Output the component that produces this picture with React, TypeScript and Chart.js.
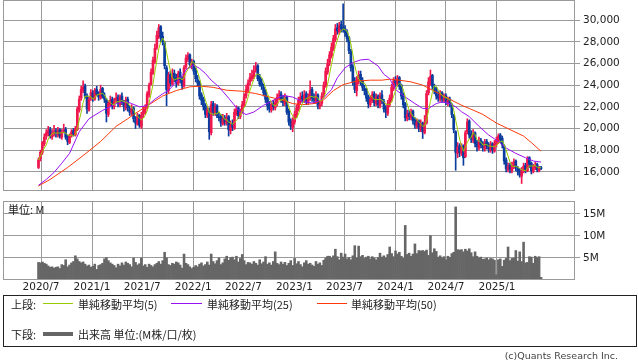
import React, { useEffect, useRef } from 'react';
import { Chart, registerables } from 'chart.js';

Chart.register(...registerables);

// ---------- axis / label data ----------
const startDate = '2020-06-22'; // week 0
const xTickDates = ['2020-07-01', '2021-01-01', '2021-07-01', '2022-01-01', '2022-07-01', '2023-01-01', '2023-07-01', '2024-01-01', '2024-07-01', '2025-01-01'];
const xTickLabels = ['2020/7', '2021/1', '2021/7', '2022/1', '2022/7', '2023/1', '2023/7', '2024/1', '2024/7', '2025/1'];
const priceTicks = [16000, 18000, 20000, 22000, 24000, 26000, 28000, 30000];
const volumeTicks = [5, 10, 15];

// ---------- weekly candles ----------
const opens = [
  16400,17200,17800,18600,19300,19500,19900,19200,19500,19800,
  19400,19900,19200,19800,19900,19300,18700,19400,19800,19400,
  19900,21700,22800,23500,23900,23000,21700,22800,23300,22700,
  23600,23200,22800,23700,23000,22600,21300,22200,22700,22000,
  22600,22900,22200,23000,22400,21900,22700,21800,21400,21900,
  20800,20400,21200,20200,21300,21500,21900,23100,24100,25100,
  26200,27500,28500,29400,28500,27900,25600,23500,25000,24100,
  25100,24700,24100,25200,24600,23900,25700,26400,26800,25800,
  26200,25400,24500,24300,23100,22700,22100,21200,21800,19600,
  22300,21400,22100,21100,21100,20400,21000,20500,21100,19800,
  20400,20000,21400,21900,21100,21600,22100,23000,23500,24300,
  24600,24800,25400,25800,24700,24200,23800,23400,22800,22200,
  21700,22300,21900,22300,23000,23200,22800,22300,22900,21600,
  20700,20100,20600,21200,21800,22500,23000,22600,23200,22400,
  22800,23600,22900,22500,23100,22000,22300,23100,23900,25200,
  26100,26700,27400,28200,29300,28900,29600,29300,29200,28900,
  28400,27100,25700,24400,23500,24400,25000,24400,23700,23600,
  22900,22200,22600,23200,22300,23000,22100,23100,22500,21900,
  21400,22200,22700,23700,24500,24100,24700,24000,23100,22300,
  20900,21400,21000,21600,20800,20200,20700,19900,20500,19600,
  20500,23300,24200,24900,23800,23600,23100,22700,23300,22600,
  23000,22400,22700,22200,21200,19700,17700,18400,17700,18400,
  17400,19700,20700,19500,18900,19600,18700,18200,18900,18600,
  18100,18800,18500,18000,18600,17900,18500,18800,19400,19100,
  18400,17100,16200,16600,16100,16500,17000,16300,16100,15600,
  16200,16600,16100,17300,16800,16000,16400,16700,16100,16400,
];
const highs = [
  17300,18000,18800,19500,19900,20200,20100,19900,20300,20000,
  20100,20000,19900,20400,20100,19400,19500,19900,20000,20200,
  22000,23000,23900,24400,24100,23200,22900,23600,23500,23700,
  23900,23400,24000,23800,23300,22800,22500,23000,22900,22800,
  23300,23100,23100,23300,22600,22900,22900,22100,22200,22000,
  21100,21400,21300,21500,22000,22200,23400,24200,25500,26600,
  27800,29000,29600,29500,28900,28000,25800,25200,25300,25500,
  25400,25000,25300,25500,24800,25800,26800,27000,26900,26400,
  26300,25600,24900,24400,23300,22900,22300,22000,21900,22500,
  22500,22300,22200,21500,21300,21300,21200,21400,21200,20700,
  20800,21800,22100,22000,21800,22500,23200,24000,24500,25100,
  25400,25800,26100,25900,25000,24600,24100,23600,23000,22500,
  22400,22600,22700,23200,23500,23400,23000,23200,23000,21800,
  20900,21000,21600,22200,22900,23300,23400,23500,23400,23200,
  24400,23800,23200,23400,23200,22600,23300,24300,25600,26400,
  27100,27900,28600,29600,29700,29800,29900,31500,29500,29100,
  28500,27300,25900,24700,24800,25300,25300,24700,24000,23700,
  23100,23000,23400,23400,23200,23100,23300,23500,22700,22100,
  22600,23100,24100,24700,24800,24900,24800,24100,23300,22400,
  21700,21700,21800,21700,21000,20900,20800,20800,20600,21200,
  23500,24700,25400,25000,24100,23800,23400,23500,23400,23200,
  23200,22900,22900,22300,21300,19800,18700,18600,18600,18500,
  19800,20900,20800,19800,19900,19700,18900,19200,19100,18800,
  19000,19000,18700,18800,18700,18900,19200,19500,19540,19300,
  18500,17300,16800,16800,16900,17200,17100,16500,16300,16400,
  16800,16800,17400,17400,16900,16700,16900,16800,16500,16500,
];
const lows = [
  16300,17000,17600,18400,19000,19300,19100,19000,19300,19200,
  19200,19100,19000,19600,19000,18500,18600,19200,19300,19300,
  19800,21500,22600,23300,22800,21400,21600,22600,22500,22600,
  23000,22600,22700,22800,22400,20600,21100,22000,21800,21800,
  22400,22000,22000,22200,21600,21700,21600,21200,21200,20600,
  20000,20300,20100,20000,21000,21300,21800,22900,24000,25000,
  26000,27300,28300,28000,27700,25500,22100,23300,23900,24000,
  24300,23800,24000,24200,23600,23800,25500,26200,25600,25500,
  25000,24300,23900,22700,22200,21700,21000,21000,19000,19400,
  21200,21200,21000,20700,20200,20300,20300,20300,19300,19500,
  19800,19900,21200,20900,20900,21400,22000,22800,23300,24000,
  24400,24600,25200,24400,23900,23600,23000,22400,21700,21500,
  21500,21700,21700,22100,22700,22400,22100,22100,21300,20300,
  19900,19700,20400,21000,21600,22300,22400,22400,22200,22200,
  22600,22500,22300,22300,21800,21800,22100,22900,23800,25000,
  25800,26500,27200,28000,28700,28700,28900,28900,28500,28000,
  26900,25300,24000,23300,23000,24100,24000,23500,23100,22500,
  21900,22000,22400,22100,22100,21900,21900,22300,21500,21000,
  21200,22000,22500,23500,23900,23900,23600,22700,21900,20700,
  20700,20800,20800,20400,20000,20000,19700,19700,19080,19500,
  20400,23100,24000,23600,23200,22700,22500,22500,22400,22400,
  22200,22100,22000,21000,19600,16150,17300,17400,17500,16600,
  17300,19500,19100,18700,18700,18300,17900,18000,18200,17900,
  17900,18100,17800,17800,17700,17800,18300,18600,18700,18200,
  16700,16000,16000,15900,15900,16300,16100,15700,15500,14920,
  15900,15900,16000,16400,15800,15900,16200,16000,16000,16200,
];
const closes = [
  17100,17800,18700,19200,19600,19800,19300,19600,19700,19500,
  19800,19300,19700,19900,19200,18800,19300,19700,19500,20000,
  21800,22700,23600,23800,23000,21800,22700,23300,22800,23500,
  23200,22900,23600,23000,22700,21400,22300,22600,22100,22500,
  22800,22300,22900,22400,22000,22600,21900,21500,21800,20900,
  20500,21100,20300,21200,21600,21800,23200,24000,25200,26300,
  27400,28600,29300,28400,28000,25800,23600,24900,24200,25000,
  24600,24200,25100,24500,24000,25600,26500,26700,25900,26100,
  25300,24600,24200,23000,22600,22000,21300,21700,19700,22200,
  21500,22000,21200,21000,20500,20900,20600,21000,19900,20300,
  20100,21500,21800,21200,21500,22200,22900,23600,24200,24700,
  24900,25300,25700,24600,24100,23900,23300,22700,22100,21800,
  22200,22000,22400,22900,23100,22700,22400,22800,21500,20600,
  20200,20700,21300,21900,22600,22900,22700,23100,22500,22900,
  23500,22800,22600,23000,22100,22200,23000,24000,25300,26000,
  26800,27500,28300,29200,29000,29500,29200,29100,28800,28300,
  27200,25600,24300,23600,24500,24900,24300,23800,23500,22800,
  22300,22700,23100,22400,22900,22200,23000,22600,21800,21500,
  22300,22800,23800,24400,24200,24600,23900,23000,22200,21000,
  21300,21100,21500,20700,20300,20600,20000,20400,19700,20500,
  23200,24300,24800,23900,23500,23000,22800,23200,22700,22900,
  22500,22600,22300,21300,19900,17800,18300,17800,18300,17300,
  19600,20600,19400,19000,19500,18600,18300,18800,18500,18200,
  18700,18400,18100,18500,18000,18600,18900,19300,19000,18500,
  17000,16300,16500,16200,16600,16900,16400,16000,15700,16100,
  16500,16200,17200,16700,16100,16500,16600,16200,16400,16300,
];
// volume, millions
const volumes = [
  4.0,3.9,4.1,3.8,3.6,3.2,2.9,3.0,2.7,2.9,
  3.0,2.6,3.5,3.3,4.6,3.0,3.4,3.9,4.2,5.5,
  4.8,4.2,3.9,4.1,3.6,3.2,3.4,2.9,3.1,3.6,
  2.4,3.3,3.5,3.8,4.8,5.1,4.4,3.9,3.6,3.3,
  2.8,3.6,3.2,3.9,3.4,4.1,3.8,3.5,3.0,5.0,
  4.0,3.4,3.7,5.0,3.2,3.5,2.9,3.6,3.3,3.0,
  3.5,3.8,4.2,3.6,4.4,6.3,5.0,3.5,3.3,3.8,
  3.6,4.1,3.9,3.4,2.7,5.9,3.8,3.5,3.0,2.6,
  2.9,3.3,3.0,3.6,3.9,3.2,3.5,4.1,3.4,5.9,
  4.2,3.7,4.4,5.0,3.5,3.9,4.8,5.4,4.5,5.1,
  5.2,4.6,5.4,4.1,4.9,5.8,4.4,3.5,4.0,3.9,
  3.6,4.2,3.8,3.4,4.6,3.7,4.1,5.3,3.6,3.9,
  3.4,4.2,6.4,3.8,3.5,4.1,3.6,4.0,3.3,3.8,
  4.4,3.3,4.9,3.7,4.2,3.5,3.0,3.9,4.4,3.6,
  3.8,3.4,3.1,4.2,3.6,3.9,3.3,4.5,5.0,5.4,
  5.4,5.0,5.5,7.0,5.3,4.6,6.1,5.2,5.9,4.8,
  5.1,4.6,5.5,7.8,5.0,7.7,5.3,5.6,4.9,5.2,
  5.4,4.8,5.3,5.0,4.6,5.1,6.1,5.2,5.5,5.0,
  5.8,7.5,6.0,5.3,6.6,5.9,6.3,5.4,4.9,12.4,
  5.8,6.1,5.4,5.9,8.2,6.0,6.7,6.6,6.7,6.5,
  6.8,5.6,10.1,6.2,7.1,6.5,5.2,5.5,5.0,5.3,
  4.6,5.4,5.1,6.0,6.3,16.6,6.9,6.8,6.9,6.4,
  7.0,6.6,7.1,6.2,5.3,6.4,5.4,5.0,5.2,4.7,
  4.8,5.0,4.6,4.9,4.8,4.5,1.2,4.6,4.8,3.1,
  4.5,4.9,7.5,4.4,4.9,5.0,6.7,4.3,6.4,4.2,
  8.6,3.9,4.0,5.3,5.2,3.8,5.4,5.1,5.3,0.6,
];

// moving averages (25, 50) at these weeks
const ma25Weeks = [0,4,8,12,16,21,26,33,40,45,48,52,56,60,64,67,70,74,77,80,83,86,89,93,98,103,107,111,116,121,126,131,136,141,146,151,154,158,162,166,170,175,178,181,184,189,194,198,201,205,208,212,215,218,222,227,232,237,241,246,251,255,259];
const ma25Values = [14760,15300,15940,16800,17700,19700,20900,21670,22290,22500,22300,22000,22100,22700,23200,23500,24100,24900,25600,25850,25550,25080,24460,23840,22800,21700,21280,21520,22140,22600,23050,22900,22500,22350,22650,23590,24680,25600,26080,26330,26390,25770,25000,24600,23600,22900,22300,21850,21850,22300,22450,22300,22000,21550,21100,20200,19400,18800,18200,17700,17300,17000,16900];
const ma50Weeks = [0,6,15,23,32,40,46,50,57,64,71,78,84,90,97,105,112,119,126,131,136,142,147,152,157,164,171,177,181,186,192,198,203,208,213,218,222,229,236,243,250,254,259];
const ma50Values = [14700,15300,16400,17500,18800,20200,20900,21400,22200,23000,23500,23850,23900,23800,23530,23440,23220,22910,22600,22300,22200,22300,22650,23500,24050,24370,24460,24460,24550,24460,24300,24000,23540,23080,22600,22150,21850,21300,20500,19900,19300,18700,17900];

// ---------- style constants ----------
const RED = '#f0174e';
const BLUE = '#0a3d9e';
const GREEN = '#99cc00';
const PURPLE = '#9a10f5';
const ORANGE = '#ff3a0a';
const GRID = '#9a9a9a';
const TEXT = '#222';
const X_MIN = -18.3;
const X_MAX = 276.5;
const TICK_FONT = { family: 'DejaVu Sans', size: 10.5 };

const weekOf = (d: string) =>
  (Date.parse(d + 'T00:00:00Z') - Date.parse(startDate + 'T00:00:00Z')) / (7 * 86400000);

const framePlugin = {
  id: 'frame',
  afterDraw(chart: any) {
    const { ctx, chartArea: a } = chart;
    ctx.save();
    ctx.strokeStyle = GRID;
    ctx.lineWidth = 1;
    ctx.strokeRect(Math.round(a.left) + 0.5, Math.round(a.top) + 0.5, Math.round(a.right - a.left) - 1, Math.round(a.bottom - a.top) - 1);
    ctx.restore();
  },
};

export default function App() {
  const priceRef = useRef<HTMLCanvasElement>(null);
  const volRef = useRef<HTMLCanvasElement>(null);

  useEffect(() => {
    const xTickPos = xTickDates.map(weekOf);
    const setXTicks = (scale: any) => {
      scale.ticks = xTickPos.map((v) => ({ value: v }));
    };
    const idx = closes.map((_, i) => i);
    const colors = idx.map((i) => (closes[i] >= opens[i] ? RED : BLUE));
    const wickData = idx.map((i) => ({ x: i, y: [lows[i], highs[i]] }));
    const bodyData = idx.map((i) => {
      const lo = Math.min(opens[i], closes[i]);
      const hi = Math.max(opens[i], closes[i]);
      return { x: i, y: [lo, hi - lo < 40 ? lo + 40 : hi] };
    });
    const ma5Data = idx.map((i) => {
      const w = closes.slice(Math.max(0, i - 4), i + 1);
      return { x: i, y: w.reduce((s, v) => s + v, 0) / w.length };
    });
    const ma25Data = ma25Weeks.map((w, i) => ({ x: w, y: ma25Values[i] }));
    const ma50Data = ma50Weeks.map((w, i) => ({ x: w, y: ma50Values[i] }));

    const priceChart = new Chart(priceRef.current as HTMLCanvasElement, {
      type: 'bar',
      data: {
        datasets: [
          { type: 'line', label: 'MA5', data: ma5Data, borderColor: GREEN, borderWidth: 1, pointRadius: 0, tension: 0, order: 0 } as any,
          { type: 'line', label: 'MA25', data: ma25Data, borderColor: PURPLE, borderWidth: 1, pointRadius: 0, tension: 0, order: 1 } as any,
          { type: 'line', label: 'MA50', data: ma50Data, borderColor: ORANGE, borderWidth: 1, pointRadius: 0, tension: 0, order: 2 } as any,
          { type: 'bar', label: 'body', data: bodyData, backgroundColor: colors, barThickness: 2, grouped: false, order: 3 } as any,
          { type: 'bar', label: 'wick', data: wickData, backgroundColor: colors, barThickness: 1, grouped: false, order: 4 } as any,
        ],
      },
      options: {
        animation: false,
        responsive: false,
        devicePixelRatio: 1,
        events: [],
        layout: { padding: { left: 3, right: 0, top: 0, bottom: 0 } },
        plugins: { legend: { display: false }, tooltip: { enabled: false } },
        scales: {
          x: {
            type: 'linear',
            min: X_MIN,
            max: X_MAX,
            offset: false,
            grid: { color: GRID, drawTicks: false, offset: false },
            border: { display: false },
            ticks: { display: false },
            afterBuildTicks: setXTicks,
            afterFit: (s: any) => { s.height = 0; s.paddingLeft = 0; s.paddingRight = 0; },
          },
          y: {
            type: 'linear',
            position: 'right',
            min: 14230,
            max: 31860,
            grid: { color: GRID, tickLength: 5 },
            border: { display: false },
            ticks: { font: TICK_FONT, color: TEXT, padding: 3, callback: (v: any) => Number(v).toLocaleString('en-US') },
            afterBuildTicks: (s: any) => { s.ticks = priceTicks.map((v) => ({ value: v })); },
            afterFit: (s: any) => { s.width = 63; s.paddingTop = 0; s.paddingBottom = 0; },
          },
        },
      } as any,
      plugins: [framePlugin],
    });

    const volChart = new Chart(volRef.current as HTMLCanvasElement, {
      type: 'bar',
      data: {
        datasets: [
          {
            label: 'volume',
            data: idx.map((i) => ({ x: i, y: volumes[i] })),
            backgroundColor: '#666666',
            barPercentage: 1,
            categoryPercentage: 1,
            borderWidth: 0,
          } as any,
        ],
      },
      options: {
        animation: false,
        responsive: false,
        devicePixelRatio: 1,
        events: [],
        layout: { padding: { left: 3, right: 0, top: 5, bottom: 0 } },
        plugins: { legend: { display: false }, tooltip: { enabled: false } },
        scales: {
          x: {
            type: 'linear',
            min: X_MIN,
            max: X_MAX,
            offset: false,
            grid: { color: GRID, drawTicks: false, offset: false },
            border: { display: false },
            ticks: { font: TICK_FONT, color: TEXT, padding: 1, autoSkip: false, maxRotation: 0, callback: (_v: any, i: number) => xTickLabels[i] },
            afterBuildTicks: setXTicks,
            afterFit: (s: any) => { s.height = 16; s.paddingLeft = 0; s.paddingRight = 0; },
          },
          y: {
            type: 'linear',
            position: 'right',
            min: 0,
            max: 17.95,
            grid: { color: GRID, tickLength: 5 },
            border: { display: false },
            ticks: { font: TICK_FONT, color: TEXT, padding: 3, callback: (v: any) => v + 'M' },
            afterBuildTicks: (s: any) => { s.ticks = volumeTicks.map((v) => ({ value: v })); },
            afterFit: (s: any) => { s.width = 63; s.paddingTop = 0; s.paddingBottom = 0; },
          },
        },
      } as any,
      plugins: [framePlugin],
    });

    return () => {
      priceChart.destroy();
      volChart.destroy();
    };
  }, []);

  const jp = '"Noto Sans CJK JP", "Noto Sans", sans-serif';
  const txt = (left: number, top: number, s: string) => (
    <div style={{ position: 'absolute', left, top, font: `11px ${jp}`, lineHeight: '14px', color: TEXT, whiteSpace: 'nowrap' }}>{s}</div>
  );
  const line = (left: number, top: number, width: number, height: number, color: string) => (
    <div style={{ position: 'absolute', left, top, width, height, background: color }} />
  );

  return (
    <div style={{ position: 'absolute', left: 0, top: 0, width: 638, height: 362, background: '#fff', overflow: 'hidden' }}>
      <canvas ref={priceRef} width={638} height={191} style={{ position: 'absolute', left: 0, top: 0, width: 638, height: 191 }} />
      <canvas ref={volRef} width={638} height={100} style={{ position: 'absolute', left: 0, top: 196, width: 638, height: 100 }} />
      {txt(8, 202, '単位: M')}
      <div style={{ position: 'absolute', left: 3, top: 295, width: 632, height: 50, border: '1px solid #222' }} />
      {txt(11, 297, '上段:')}
      {line(43, 303, 30, 1, GREEN)}
      {txt(78, 297, '単純移動平均(5)')}
      {line(171, 303, 31, 1, PURPLE)}
      {txt(207, 297, '単純移動平均(25)')}
      {line(317, 303, 30, 1, ORANGE)}
      {txt(351, 297, '単純移動平均(50)')}
      {txt(11, 327, '下段:')}
      {line(43, 332, 30, 4, '#666666')}
      {txt(78, 327, '出来高 単位:(M株/口/枚)')}
      <div style={{ position: 'absolute', right: 20, top: 349, font: '9.5px "DejaVu Sans"', lineHeight: '14px', color: '#444', whiteSpace: 'nowrap' }}>(c)Quants Research Inc.</div>
    </div>
  );
}
